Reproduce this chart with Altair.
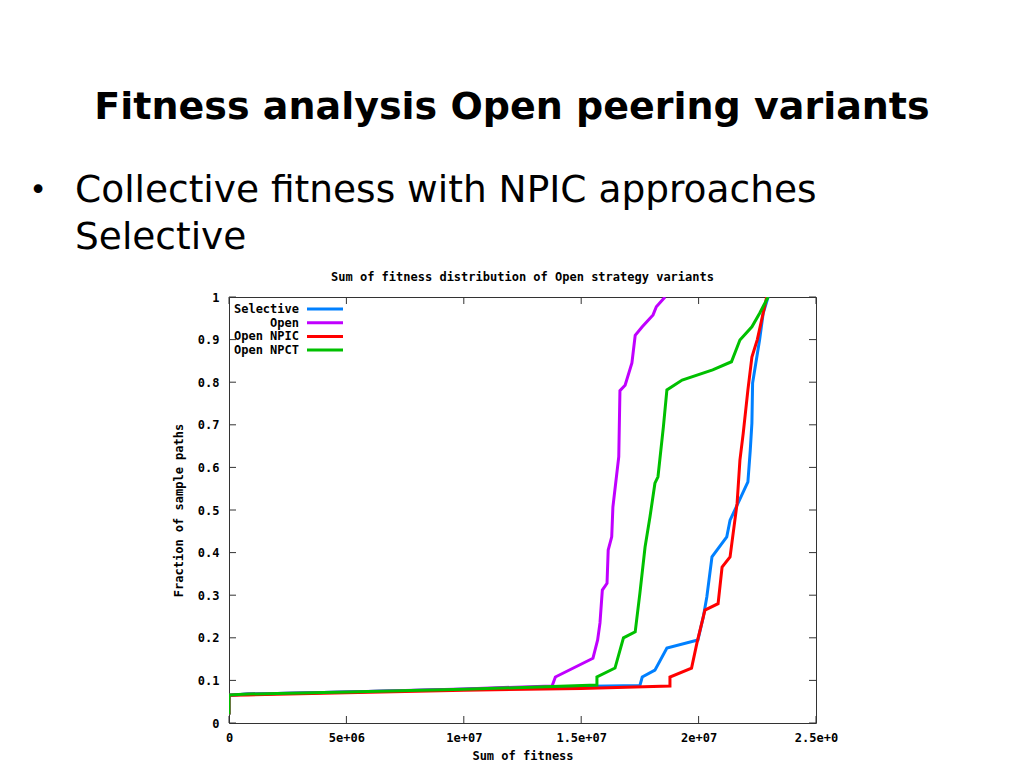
import altair as alt
import pandas as pd

series_names = ["Selective", "Open", "Open NPIC", "Open NPCT"]
series_colors = ["#0080ff", "#c000ff", "#ff0000", "#00c000"]

sel_x = [0, 0, 0.8e6, 5e6, 10e6, 14e6, 17.5e6, 17.6e6, 18.14e6, 18.65e6, 19.97e6, 20.2e6,
         20.35e6, 20.57e6, 21.2e6, 21.34e6, 21.68e6, 22.1e6, 22.2e6, 22.27e6, 22.3e6, 22.6e6,
         22.75e6, 22.96e6]
sel_y = [0.02, 0.065, 0.068, 0.073, 0.079, 0.085, 0.088, 0.108, 0.124, 0.176, 0.195, 0.249,
         0.296, 0.39, 0.437, 0.476, 0.516, 0.566, 0.64, 0.704, 0.798, 0.9, 0.962, 1.0]

open_x = [0, 0, 0.8e6, 5e6, 10e6, 13.76e6, 13.9e6, 15.5e6, 15.7e6, 15.8e6, 15.9e6, 16.1e6,
          16.15e6, 16.3e6, 16.35e6, 16.6e6, 16.65e6, 16.87e6, 17.16e6, 17.3e6, 17.6e6,
          18.06e6, 18.2e6, 18.57e6]
open_y = [0.02, 0.065, 0.068, 0.073, 0.08, 0.087, 0.108, 0.152, 0.195, 0.235, 0.312, 0.328,
          0.406, 0.437, 0.507, 0.625, 0.78, 0.793, 0.845, 0.91, 0.93, 0.958, 0.977, 1.0]

npic_x = [0, 0, 0.8e6, 5e6, 10e6, 15e6, 18.78e6, 18.78e6, 19.7e6, 19.93e6, 20.27e6, 20.83e6,
          21.0e6, 21.34e6, 21.64e6, 21.76e6, 21.9e6, 22.1e6, 22.27e6, 22.5e6, 22.9e6]
npic_y = [0.02, 0.065, 0.066, 0.071, 0.077, 0.081, 0.087, 0.108, 0.129, 0.188, 0.265, 0.28,
          0.366, 0.39, 0.516, 0.617, 0.68, 0.782, 0.859, 0.9, 1.0]

npct_x = [0, 0, 0.8e6, 5e6, 10e6, 15.67e6, 15.67e6, 16.44e6, 16.8e6, 17.3e6, 17.5e6, 17.72e6,
          17.93e6, 18.14e6, 18.27e6, 18.5e6, 18.65e6, 19.3e6, 20.6e6, 21.4e6, 21.76e6,
          22.27e6, 22.6e6, 22.96e6]
npct_y = [0.02, 0.066, 0.068, 0.073, 0.079, 0.089, 0.108, 0.129, 0.2, 0.214, 0.305, 0.413,
          0.484, 0.563, 0.578, 0.695, 0.782, 0.805, 0.829, 0.848, 0.899, 0.93, 0.962, 1.0]

x_ticks = [0, 5e6, 1e7, 1.5e7, 2e7, 2.5e7]
x_tick_labels = ["0", "5e+06", "1e+07", "1.5e+07", "2e+07", "2.5e+0"]
y_ticks = [0, 0.1, 0.2, 0.3, 0.4, 0.5, 0.6, 0.7, 0.8, 0.9, 1.0]
y_tick_labels = ["0", "0.1", "0.2", "0.3", "0.4", "0.5", "0.6", "0.7", "0.8", "0.9", "1"]

slide_title = "Fitness analysis Open peering variants"
bullet_lines = ["Collective fitness with NPIC approaches", "Selective"]
chart_title = "Sum of fitness distribution of Open strategy variants"
x_title = "Sum of fitness"
y_title = "Fraction of sample paths"

W, H = 587, 426
MONO = "DejaVu Sans Mono"

rows = []
for name, xs, ys in [(series_names[0], sel_x, sel_y), (series_names[1], open_x, open_y),
                     (series_names[2], npic_x, npic_y), (series_names[3], npct_x, npct_y)]:
    for i, (xv, yv) in enumerate(zip(xs, ys)):
        rows.append({"series": name, "x": xv, "y": yv, "i": i})
df = pd.DataFrame(rows)


def label_expr(vals, labels):
    expr = "''"
    for v, l in reversed(list(zip(vals, labels))):
        expr = f"abs(datum.value - {v}) < 1e-6 ? '{l}' : {expr}"
    return expr


xscale = alt.Scale(domain=[0, 2.5e7], nice=False, zero=False)
yscale = alt.Scale(domain=[0, 1], nice=False, zero=False)
cscale = alt.Scale(domain=series_names, range=series_colors)

xaxis = alt.Axis(values=x_ticks, labelExpr=label_expr(x_ticks, x_tick_labels),
                 labelPadding=9, titlePadding=7, labelFlush=False, labelOverlap=False)

lines = alt.Chart(df).mark_line(strokeWidth=3, clip=True).encode(
    x=alt.X("x:Q", scale=xscale, title=x_title, axis=xaxis),
    y=alt.Y("y:Q", scale=yscale, title=y_title,
            axis=alt.Axis(values=y_ticks, labelExpr=label_expr(y_ticks, y_tick_labels),
                          labelPadding=10, titlePadding=12, labelFlush=False, labelOverlap=False)),
    color=alt.Color("series:N", scale=cscale, legend=None),
    detail="series:N",
    order="i:Q",
)

xt = pd.DataFrame({"v": x_ticks})
yt = pd.DataFrame({"v": y_ticks})
tick_col = "#333333"
xt_bottom = alt.Chart(xt).mark_rule(color=tick_col).encode(
    x=alt.X("v:Q", scale=xscale, title=x_title, axis=xaxis), y=alt.value(H), y2=alt.value(H - 7))
xt_top = alt.Chart(xt).mark_rule(color=tick_col).encode(
    x=alt.X("v:Q", scale=xscale, title=x_title, axis=xaxis), y=alt.value(0), y2=alt.value(7))
yt_left = alt.Chart(yt).mark_rule(color=tick_col).encode(
    y=alt.Y("v:Q", scale=yscale, axis=None), x=alt.value(0), x2=alt.value(7))
yt_right = alt.Chart(yt).mark_rule(color=tick_col).encode(
    y=alt.Y("v:Q", scale=yscale, axis=None), x=alt.value(W), x2=alt.value(W - 7))

leg = pd.DataFrame({"series": series_names, "idx": list(range(len(series_names)))})
leg_base = alt.Chart(leg).transform_calculate(py="12 + 13.7 * datum.idx")
leg_text = leg_base.mark_text(align="right", baseline="middle", font=MONO, fontWeight="bold",
                              fontSize=12, color="black").encode(
    x=alt.value(70), y=alt.Y("py:Q", scale=None, axis=None), text="series:N")
leg_line = leg_base.mark_rule(strokeWidth=3).encode(
    x=alt.value(78), x2=alt.value(114), y=alt.Y("py:Q", scale=None, axis=None),
    color=alt.Color("series:N", scale=cscale, legend=None))

one = pd.DataFrame({"t": [slide_title]})
title_txt = alt.Chart(one).mark_text(align="center", baseline="middle", font="DejaVu Sans",
                                      fontWeight="bold", fontSize=38, color="black").encode(
    x=alt.value(283), y=alt.value(-189), text="t:N")

ct = pd.DataFrame({"t": [chart_title]})
chart_title_txt = alt.Chart(ct).mark_text(align="center", baseline="middle", font=MONO,
                                          fontWeight="bold", fontSize=12, color="black").encode(
    x=alt.value(W / 2), y=alt.value(-20), text="t:N")

bl = pd.DataFrame({"t": bullet_lines, "k": [0, 1]})
bullet_txt = alt.Chart(bl).transform_calculate(py="-106 + 47 * datum.k").mark_text(
    align="left", baseline="middle", font="DejaVu Sans", fontSize=37.5, color="black").encode(
    x=alt.value(-154), y=alt.Y("py:Q", scale=None, axis=None), text="t:N")
bullet_dot = alt.Chart(pd.DataFrame({"t": ["•"]})).mark_text(
    align="center", baseline="middle", font="DejaVu Sans", fontSize=30, color="black").encode(
    x=alt.value(-191), y=alt.value(-106), text="t:N")

chart = alt.layer(
    lines, xt_bottom, xt_top, yt_left, yt_right, leg_line, leg_text,
    title_txt, chart_title_txt, bullet_dot, bullet_txt,
).resolve_scale(y="independent").properties(
    width=W, height=H,
    autosize=alt.AutoSizeParams(type="none"),
    padding={"left": 221, "top": 289, "right": 200, "bottom": 42},
    background="white",
).configure_view(stroke="#333333", strokeWidth=1).configure_axis(
    labelFont=MONO, labelFontWeight="bold", labelFontSize=12, labelColor="black",
    titleFont=MONO, titleFontWeight="bold", titleFontSize=12, titleColor="black",
    ticks=False, tickSize=0, domain=False, grid=False,
)

chart.save("out.html", embed_options={"renderer": "svg", "actions": False})
